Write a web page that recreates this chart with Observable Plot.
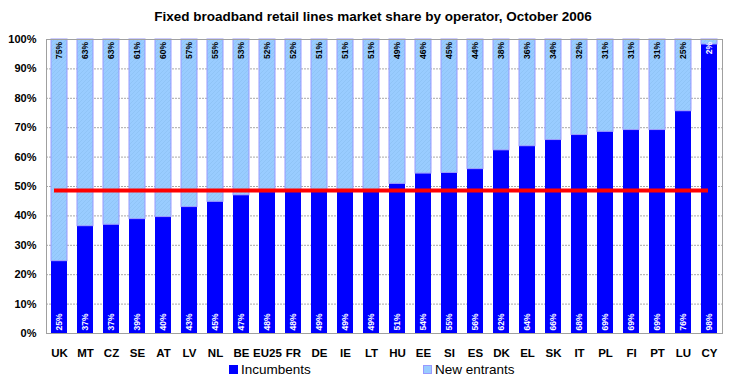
<!DOCTYPE html>
<html>
<head>
<meta charset="utf-8">
<script src="https://cdn.jsdelivr.net/npm/d3@7"></script>
<script src="https://cdn.jsdelivr.net/npm/@observablehq/plot@0.6"></script>
<style>
  html, body { margin: 0; padding: 0; background: #fff; }
  body { width: 735px; height: 382px; overflow: hidden; font-family: "Liberation Sans", Arial, sans-serif; }
  #title { height: 30px; line-height: 33px; text-align: center; padding-left: 11px; box-sizing: border-box;
           font-size: 13.5px; font-weight: bold; color: #000; }
  #chart svg { display: block; }
  .chart g[aria-label^="y-axis"] text { font-size: 11px; font-weight: bold; fill: #000; }
  .chart g[aria-label^="x-axis"] text { font-size: 11.5px; font-weight: bold; fill: #000; }
  #legend { position: relative; height: 20px; font-size: 13.5px; color: #000; }
  .item { position: absolute; top: 0; display: flex; align-items: center; height: 14px; }
  .sw { width: 9px; height: 9px; margin-right: 3px; box-sizing: border-box; }
</style>
</head>
<body>
<div id="title">Fixed broadband retail lines market share by operator, October 2006</div>
<div id="chart"></div>
<div id="legend">
  <div class="item" style="left:229px"><div class="sw" style="background:#0000FF"></div>Incumbents</div>
  <div class="item" style="left:423px"><div class="sw" style="background:#99CCFF;border:1px solid #9999FF"></div>New entrants</div>
</div>
<script>
const countries = ["UK","MT","CZ","SE","AT","LV","NL","BE","EU25","FR","DE","IE","LT","HU","EE","SI","ES","DK","EL","SK","IT","PL","FI","PT","LU","CY"];
// Incumbent share (%)
const incumbentShare = [24.6,36.5,37.0,38.9,39.6,43.0,44.8,47.0,48.1,48.3,48.6,48.7,48.8,50.9,54.4,54.6,55.9,62.3,63.7,65.8,67.5,68.6,69.2,69.2,75.6,98.3];
// Data labels as printed in the bars
const incumbentLabels = [25,37,37,39,40,43,45,47,48,48,49,49,49,51,54,55,56,62,64,66,68,69,69,69,76,98];
const entrantLabels   = [75,63,63,61,60,57,55,53,52,52,51,51,51,49,46,45,44,38,36,34,32,31,31,31,25,2];
const eu25Average = 48.6;
const yTicks = [0,10,20,30,40,50,60,70,80,90,100];
const gridTicks = [10,20,30,40,50,60,70,80,90];

const rows = countries.map((c, i) => ({
  country: c,
  inc: incumbentShare[i],
  incLabel: incumbentLabels[i],
  entLabel: entrantLabels[i]
}));

const labelFont = {fontSize: 8.5, fontWeight: "bold"};

const plot = Plot.plot({
  className: "chart",
  width: 735,
  height: 332,
  marginTop: 9,
  marginBottom: 29,
  marginLeft: 46,
  marginRight: 13,
  style: {fontFamily: "'Liberation Sans', Arial, sans-serif", background: "#fff"},
  x: {domain: countries, paddingInner: 0.385, paddingOuter: 0.155, tickSize: 0, tickPadding: 15, label: null},
  y: {domain: [0, 100], ticks: yTicks, tickFormat: d => d + "%", tickSize: 0, tickPadding: 10, label: null},
  marks: [
    Plot.ruleY(gridTicks, {stroke: "#a8a8a8", strokeDasharray: "2,1"}),
    Plot.barY(rows, {x: "country", y1: d => 0, y2: "inc", fill: "#0000FF"}),
    Plot.barY(rows, {x: "country", y1: "inc", y2: d => 100, fill: "url(#hatch)", stroke: "#9999FF", strokeWidth: 1}),
    Plot.frame({stroke: "#a0a0a0"}),
    Plot.ruleY([eu25Average], {stroke: "#FF0000", strokeWidth: 4, insetLeft: 8, insetRight: 14}),
    Plot.text(rows, {x: "country", y: d => 0, dy: -3, text: d => d.incLabel + "%", rotate: -90, textAnchor: "start", fill: "#fff", ...labelFont}),
    Plot.text(rows, {x: "country", y: d => 100, dy: 2.5, text: d => d.entLabel + "%", rotate: -90, textAnchor: "end",
      fill: d => d.entLabel < 5 ? "#fff" : "#000", ...labelFont})
  ]
});

const svg = d3.select(plot.tagName.toLowerCase() === "svg" ? plot : plot.querySelector("svg"));
const pat = svg.insert("defs", ":first-child")
  .append("pattern").attr("id", "hatch").attr("patternUnits", "userSpaceOnUse")
  .attr("width", 4).attr("height", 4);
pat.append("rect").attr("width", 4).attr("height", 4).attr("fill", "#99CCFF");
pat.append("path").attr("d", "M-1,1 l2,-2 M0,4 l4,-4 M3,5 l2,-2").attr("stroke", "#8EC2F4").attr("stroke-width", 0.8);

document.getElementById("chart").appendChild(plot);
</script>
</body>
</html>
